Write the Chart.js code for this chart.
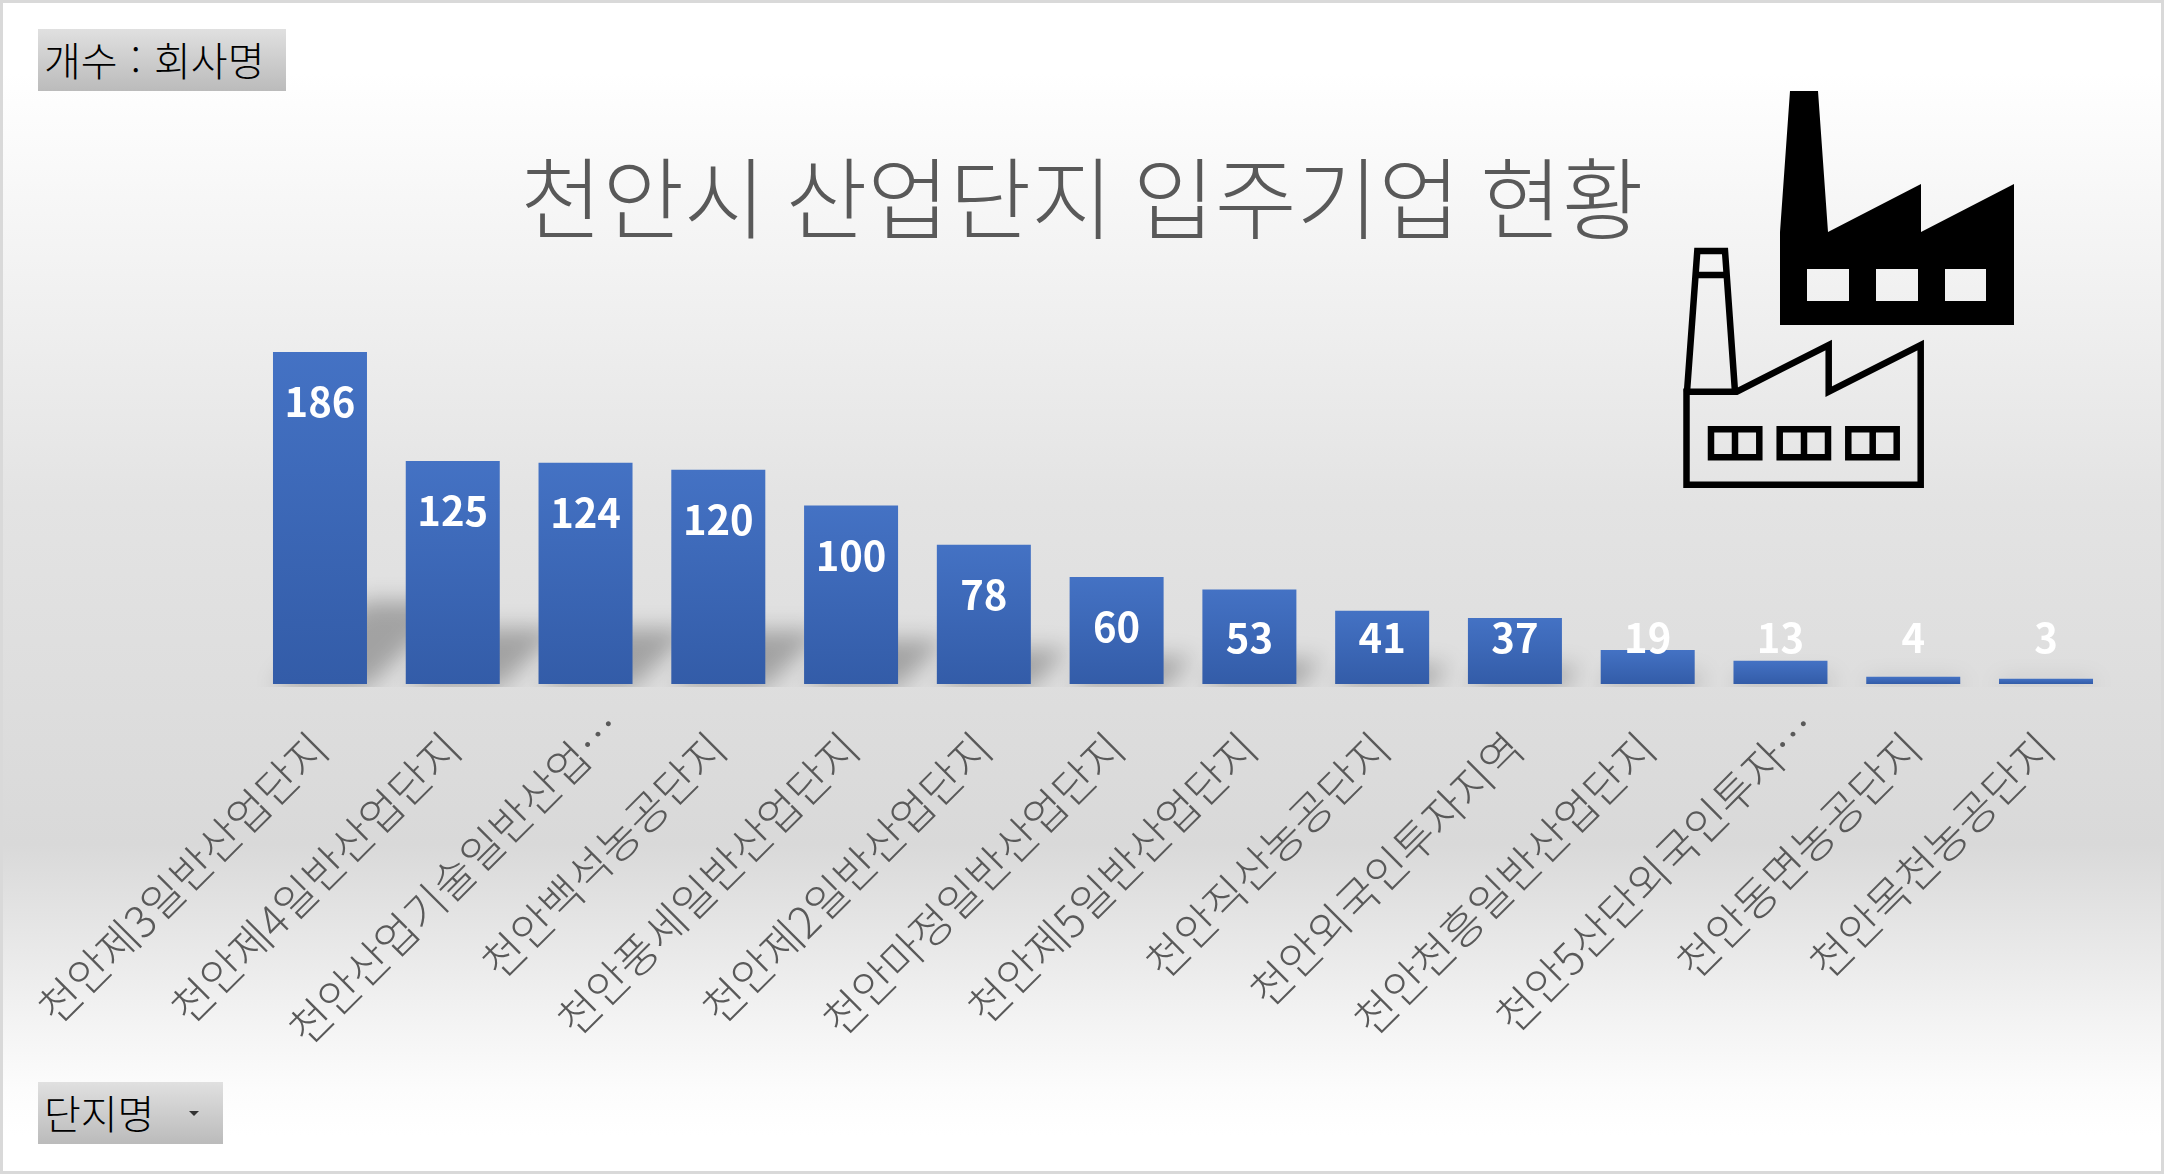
<!DOCTYPE html>
<html lang="ko">
<head>
<meta charset="utf-8">
<title>천안시 산업단지 입주기업 현황</title>
<script src="https://cdn.jsdelivr.net/npm/chart.js@4/dist/chart.umd.min.js"></script>
<style>
  html, body { margin: 0; padding: 0; background: #fff; }
  #wrap {
    position: relative; width: 2164px; height: 1174px; box-sizing: border-box;
    border: 3px solid #d9d9d9; overflow: hidden;
    background: linear-gradient(180deg, #fff 6%, #e3e3e3 43%, #d9d9d9 72%, #f3f3f3 87%, #fcfcfc 93%, #fff 97%);
  }
  canvas { position: absolute; left: -3px; top: -3px; }
  .field {
    position: absolute; box-sizing: border-box; height: 62px;
    background: linear-gradient(180deg, #e0e0e0, #bbb);
    font: 300 40px "Noto Sans CJK KR", sans-serif; color: #000;
    line-height: 60px; padding-left: 6px; white-space: nowrap;
  }
  #f1 { left: 35px; top: 26px; width: 248px; word-spacing: 2px; }
  #f2 { left: 35px; top: 1079px; width: 185px; }
  #f2 i {
    position: absolute; left: 151px; top: 29px; width: 0; height: 0;
    border-left: 5px solid transparent; border-right: 5px solid transparent; border-top: 5px solid #333;
  }
  svg { position: absolute; left: -3px; top: -3px; }
</style>
</head>
<body>
<div id="wrap">
  <canvas id="chart" width="2164" height="1174" style="width:2164px;height:1174px"></canvas>
  <div class="field" id="f1">개수 : 회사명</div>
  <div class="field" id="f2">단지명<i></i></div>
  <svg width="2164" height="1174" viewBox="0 0 2164 1174">
    <path fill="#000" fill-rule="evenodd" d="M1790 91H1818L1828 232L1921 184V232L2014 184V325H1780V232Z
      M1807 269V301H1849V269Z M1876 269V301H1918V269Z M1945 269V301H1986V269Z"/>
    <g fill="none" stroke="#000" stroke-width="6.5">
      <path d="M1686.5 484.7H1920.7V345L1828.7 391.7V345L1736.7 391.7H1686.5Z"/>
      <path d="M1687 391.7L1697.3 251H1725L1735 391.7M1697 275H1726"/>
      <path d="M1711 429.3H1759.3V457.3H1711ZM1735 429.3V457.3"/>
      <path d="M1779.7 429.3H1828V457.3H1779.7ZM1804 429.3V457.3"/>
      <path d="M1848.3 429.3H1896.7V457.3H1848.3ZM1872.7 429.3V457.3"/>
    </g>
  </svg>
</div>
<script>
const categories = [
  "천안제3일반산업단지", "천안제4일반산업단지", "천안산업기술일반산업…", "천안백석농공단지",
  "천안풍세일반산업단지", "천안제2일반산업단지", "천안마정일반산업단지", "천안제5일반산업단지",
  "천안직산농공단지", "천안외국인투자지역", "천안천흥일반산업단지", "천안5산단외국인투자…",
  "천안동면농공단지", "천안목천농공단지"
];
const companies = [186, 125, 124, 120, 100, 78, 60, 53, 41, 37, 19, 13, 4, 3];
const chartTitle = "천안시 산업단지 입주기업 현황";

const krFont = '"Noto Sans CJK KR", sans-serif';

// perspective shadow: a quarter-height copy of the bar leaning to the right
const barShadow = {
  id: "barShadow",
  beforeDatasetsDraw(chart) {
    const { ctx, width } = chart;
    const base = chart.scales.y.getPixelForValue(0);
    ctx.save();
    ctx.beginPath();
    ctx.rect(0, 0, width, base + 3);
    ctx.clip();
    ctx.filter = "blur(11px)";
    ctx.fillStyle = "rgba(0,0,0,0.27)";
    chart.getDatasetMeta(0).data.forEach(bar => {
      const left = bar.x - bar.width / 2;
      const right = bar.x + bar.width / 2;
      const h = (base - bar.y) * 0.25;
      const lean = h * 1.1;
      ctx.beginPath();
      ctx.moveTo(left, base + 3);
      ctx.lineTo(right, base + 3);
      ctx.lineTo(right + lean, base - h);
      ctx.lineTo(left + lean, base - h);
      ctx.closePath();
      ctx.fill();
    });
    ctx.restore();
  }
};

// the cut-off names sit further along their diagonal than the others
const shiftCutLabels = {
  id: "shiftCutLabels",
  beforeDraw(chart) {
    chart.scales.x.getLabelItems().forEach(item => {
      if (item.label.endsWith("…") && !item.shifted) {
        item.options.translation = [item.options.translation[0] + 28, item.options.translation[1] - 22];
        item.shifted = true;
      }
    });
  }
};

// value labels: near the bar top, but never lower than a fixed line above the axis
const barLabels = {
  id: "barLabels",
  afterDatasetsDraw(chart) {
    const { ctx } = chart;
    const base = chart.scales.y.getPixelForValue(0);
    ctx.save();
    ctx.font = '700 40px ' + krFont;
    ctx.fillStyle = "#fff";
    ctx.textAlign = "center";
    ctx.textBaseline = "middle";
    chart.getDatasetMeta(0).data.forEach((bar, i) => {
      const y = Math.min(bar.y + 50, base - 46);
      ctx.fillText(String(companies[i]), bar.x, y);
    });
    ctx.restore();
  }
};

new Chart(document.getElementById("chart"), {
  type: "bar",
  data: {
    labels: categories,
    datasets: [{
      data: companies,
      barPercentage: 0.708,
      categoryPercentage: 1,
      backgroundColor(c) {
        const chart = c.chart;
        if (!chart.chartArea || c.raw === undefined) return "#4472c4";
        const y = chart.scales.y;
        const g = chart.ctx.createLinearGradient(0, y.getPixelForValue(c.raw), 0, y.getPixelForValue(0));
        g.addColorStop(0, "#4472c4");
        g.addColorStop(1, "#335ca8");
        return g;
      }
    }]
  },
  plugins: [barShadow, shiftCutLabels, barLabels],
  options: {
    responsive: false,
    animation: false,
    plugins: {
      legend: { display: false },
      tooltip: { enabled: false },
      title: {
        display: true,
        text: chartTitle,
        color: "#595959",
        font: { family: krFont, size: 89, weight: "300" },
        padding: { top: 145, bottom: 75.2 }
      }
    },
    scales: {
      y: {
        min: 0, max: 200,
        ticks: { display: false },
        grid: { display: false },
        border: { display: false },
        afterFit(s) { s.width = 253.6; }
      },
      // empty axis that only keeps the right margin
      y2: {
        position: "right",
        ticks: { display: false },
        grid: { display: false },
        border: { display: false },
        afterFit(s) { s.width = 51.6; }
      },
      x: {
        grid: { display: false },
        border: { display: false },
        afterFit(s) { s.height = 490; s.paddingLeft = 0; s.paddingRight = 0; },
        ticks: {
          autoSkip: false,
          minRotation: 45,
          maxRotation: 45,
          padding: 30,
          color: "#595959",
          font: { family: krFont, size: 44, weight: "300" }
        }
      }
    }
  }
});
</script>
</body>
</html>
